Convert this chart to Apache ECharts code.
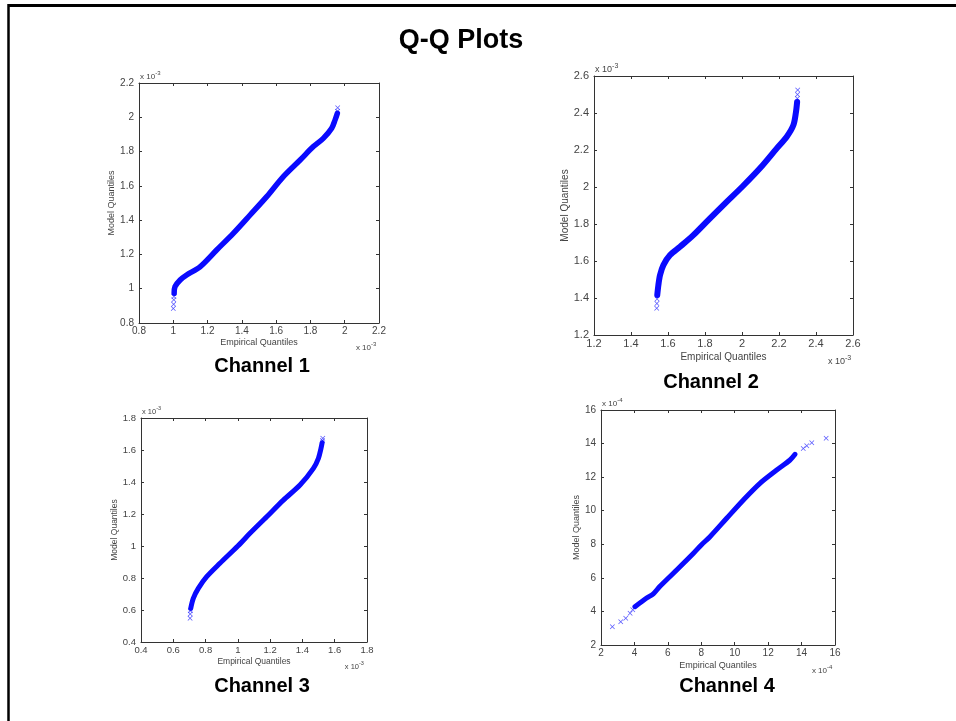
<!DOCTYPE html>
<html><head><meta charset="utf-8">
<script src="https://cdn.jsdelivr.net/npm/echarts@6/dist/echarts.min.js"></script>
<style>html,body{margin:0;padding:0;background:#fff}#c{width:956px;height:721px}</style>
</head><body><div id="c"></div>
<script>
// Values in axis display units (Channels 1-3: x 10^-3, Channel 4: x 10^-4)
// Each point: [empirical quantile, model quantile]
const ch1Band = [[1.005,0.973],[1.01,1.012],[1.04,1.051],[1.078,1.08],[1.156,1.128],[1.253,1.226],[1.35,1.323],[1.448,1.43],[1.545,1.537],[1.642,1.654],[1.74,1.751],[1.817,1.829],[1.875,1.877],[1.924,1.936],[1.944,1.985],[1.957,2.023]];
const ch1Tail = [[1.0,0.885],[1.002,0.91],[1.003,0.935],[1.004,0.955],[1.958,2.035],[1.959,2.056]];
const ch2Band = [[1.542,1.416],[1.548,1.47],[1.557,1.524],[1.575,1.578],[1.611,1.632],[1.665,1.677],[1.737,1.74],[1.827,1.831],[1.917,1.92],[2.0,2.0],[2.097,2.101],[2.188,2.209],[2.242,2.272],[2.278,2.335],[2.292,2.407],[2.298,2.46]];
const ch2Tail = [[1.539,1.344],[1.540,1.37],[1.541,1.395],[2.299,2.479],[2.300,2.50],[2.301,2.524]];
const ch3Band = [[0.708,0.61],[0.724,0.673],[0.755,0.735],[0.807,0.808],[0.889,0.892],[1.0,1.0],[1.075,1.079],[1.179,1.183],[1.282,1.287],[1.385,1.381],[1.468,1.485],[1.499,1.548],[1.515,1.61],[1.522,1.645]];
const ch3Tail = [[0.704,0.548],[0.705,0.575],[0.706,0.595],[1.524,1.66],[1.526,1.673]];
const ch4Band = [[4.03,4.28],[4.73,4.8],[5.13,5.05],[5.53,5.5],[6.53,6.47],[7.52,7.45],[8.0,7.96],[8.52,8.45],[9.52,9.55],[10.52,10.64],[11.51,11.63],[12.51,12.42],[13.31,13.02],[13.61,13.36]];
const ch4Tail = [[2.68,3.09],[3.18,3.39],[3.48,3.59],[3.74,3.89],[3.9,4.1],[14.1,13.71],[14.31,13.87],[14.61,14.05],[15.47,14.31]];

// axis ranges [min, max, interval] and exponent labels
const axisRanges = [[0.8,2.2,0.2],[1.2,2.6,0.2],[0.4,1.8,0.2],[2,16,2]];
const exponents = ['-3','-3','-3','-4'];
const channelNames = ['Channel 1','Channel 2','Channel 3','Channel 4'];
const mainTitle = 'Q-Q Plots';
const xName = 'Empirical Quantiles';
const yName = 'Model Quantiles';

const bands = [ch1Band, ch2Band, ch3Band, ch4Band];
const tails = [ch1Tail, ch2Tail, ch3Tail, ch4Tail];

// layout
const panels = [
  {left:139, top:83,  w:240, h:240, fs:10,  nfs:9,   lw:5.5, xGap:15, yGap:21, chX:262, chY:366},
  {left:594, top:76,  w:259, h:259, fs:11,  nfs:10,  lw:6,   xGap:17, yGap:21, chX:711, chY:382},
  {left:141, top:418, w:226, h:224, fs:9.5, nfs:8.5, lw:5,   xGap:15, yGap:19, chX:262, chY:686},
  {left:601, top:410, w:234, h:235, fs:10,  nfs:9,   lw:5,   xGap:16, yGap:17, chX:727, chY:686}
];

const X_SYMBOL = 'path://M0,1L1,0L5,4L9,0L10,1L6,5L10,9L9,10L5,6L1,10L0,9L4,5Z';
const AX = '#333';
const TXT = '#444';
const fmt = v => String(parseFloat(v.toFixed(2)));

const grid = [], xAxis = [], yAxis = [], series = [], graphic = [];

panels.forEach((p, i) => {
  const [mn, mx, iv] = axisRanges[i];
  grid.push({left:p.left, top:p.top, width:p.w, height:p.h, containLabel:false});
  const tick = {show:true, inside:true, length:3, lineStyle:{color:AX, width:1}};
  const line = {show:true, onZero:false, lineStyle:{color:AX, width:1}};
  xAxis.push({type:'value', gridIndex:i, min:mn, max:mx, interval:iv, position:'bottom',
    axisLine:line, axisTick:tick, splitLine:{show:false},
    axisLabel:{show:true, formatter:fmt, color:TXT, fontSize:p.fs, fontFamily:'Arial, Liberation Sans', margin:3},
    name:xName, nameLocation:'middle', nameGap:p.xGap,
    nameTextStyle:{color:TXT, fontSize:p.nfs, fontFamily:'Arial, Liberation Sans'}});
  xAxis.push({type:'value', gridIndex:i, min:mn, max:mx, interval:iv, position:'top',
    axisLine:line, axisTick:tick, splitLine:{show:false}, axisLabel:{show:false}});
  yAxis.push({type:'value', gridIndex:i, min:mn, max:mx, interval:iv, position:'left',
    axisLine:line, axisTick:tick, splitLine:{show:false},
    axisLabel:{show:true, formatter:fmt, color:TXT, fontSize:p.fs, fontFamily:'Arial, Liberation Sans', margin:5},
    name:yName, nameLocation:'middle', nameGap:p.yGap,
    nameTextStyle:{color:TXT, fontSize:p.nfs, fontFamily:'Arial, Liberation Sans'}});
  yAxis.push({type:'value', gridIndex:i, min:mn, max:mx, interval:iv, position:'right',
    axisLine:line, axisTick:tick, splitLine:{show:false}, axisLabel:{show:false}});

  series.push({type:'line', xAxisIndex:2*i, yAxisIndex:2*i, data:bands[i], showSymbol:false,
    symbol:'none', smooth:0.3, lineStyle:{color:'#0a0aff', width:p.lw, cap:'round', join:'round'},
    animation:false, silent:true});
  series.push({type:'scatter', xAxisIndex:2*i, yAxisIndex:2*i, data:tails[i], symbol:X_SYMBOL,
    symbolSize:5, itemStyle:{color:'#2a2aff'}, animation:false, silent:true});

  // exponent labels (x 10^n)
  const efs = p.nfs - 1;
  const baseW = efs * 1.9;
  // top-left
  graphic.push({type:'text', x:p.left + 1, y:p.top - 6, style:{text:'x 10', font:efs+'px Arial, Liberation Sans', fill:TXT, align:'left', verticalAlign:'middle'}});
  graphic.push({type:'text', x:p.left + 1 + baseW, y:p.top - 10, style:{text:exponents[i], font:(efs-2)+'px Arial, Liberation Sans', fill:TXT, align:'left', verticalAlign:'middle'}});
  // bottom-right
  const by = p.top + p.h + p.xGap + 10;
  graphic.push({type:'text', x:p.left + p.w - 8, y:by, style:{text:'x 10', font:efs+'px Arial, Liberation Sans', fill:TXT, align:'right', verticalAlign:'middle'}});
  graphic.push({type:'text', x:p.left + p.w - 8, y:by - 4, style:{text:exponents[i], font:(efs-2)+'px Arial, Liberation Sans', fill:TXT, align:'left', verticalAlign:'middle'}});

  // channel label
  graphic.push({type:'text', x:p.chX, y:p.chY, style:{text:channelNames[i], font:'bold 20px Arial, Liberation Sans', fill:'#000', align:'center', verticalAlign:'middle'}});
});

// title and frame
graphic.push({type:'text', x:461, y:41, style:{text:mainTitle, font:'bold 27px Arial, Liberation Sans', fill:'#000', align:'center', verticalAlign:'middle'}});
graphic.push({type:'line', shape:{x1:8, y1:5.5, x2:956, y2:5.5}, style:{stroke:'#000', lineWidth:3}});
graphic.push({type:'line', shape:{x1:8.5, y1:4, x2:8.5, y2:721}, style:{stroke:'#000', lineWidth:2.5}});

const chart = echarts.init(document.getElementById('c'), null, {renderer:'canvas'});
chart.setOption({backgroundColor:'#fff', animation:false, grid, xAxis, yAxis, series, graphic});
</script>
</body></html>
